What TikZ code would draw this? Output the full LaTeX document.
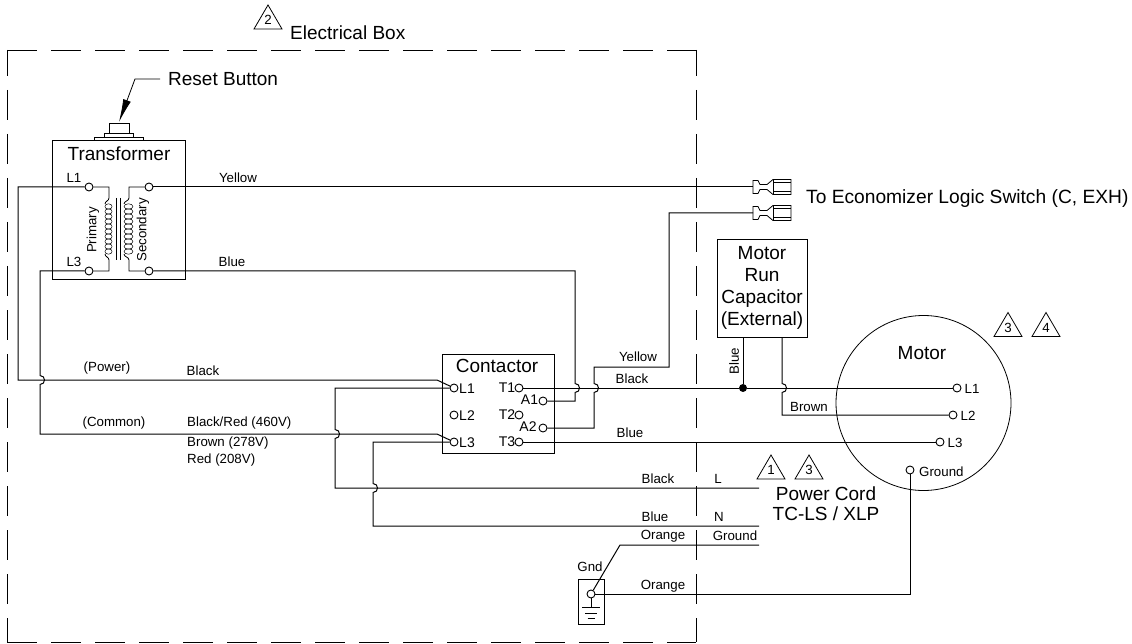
\documentclass[tikz,border=0pt]{standalone}
\usepackage{fontspec}
\setmainfont{Liberation Sans}
\usetikzlibrary{arrows.meta,calc}
\def\hop#1#2{-- (#1,#2-4.5) .. controls (#1+6,#2-4.5) and (#1+6,#2+4.5) .. (#1,#2+4.5)}
\def\spadeplug(#1){\draw[thinline,shift={(#1)}] (0,-6.5) -- (5,-6.5) -- (7,-2.5) -- (14,-2.5) -- (20,-7.5) -- (38,-7.5) -- (38,7.5) -- (20,7.5) -- (14,2.5) -- (7,2.5) -- (5,6.5) -- (0,6.5) -- cycle;
	\draw[thinline,shift={(#1)}] (20,-7.5) -- (20,7.5) (20,-4.5) -- (38,-4.5) (20,4.5) -- (38,4.5);}
\def\notetri(#1)#2#3;{\draw[thinline] ($(#1)+(-14,12)$) -- ($(#1)+(0,-12)$) -- ($(#1)+(14,12)$) -- cycle; \node[small] (#3) at ($(#1)+(0,3)$) {#2};}
\tikzset{
	wire/.style={line width=1pt},
	thinline/.style={line width=0.8pt},
	term/.style={circle,draw,line width=0.9pt,fill=white,inner sep=0pt,minimum size=8pt},
	big/.style={inner sep=0pt,font=\fontsize{19}{21}\selectfont},
	small/.style={inner sep=0pt,font=\fontsize{13.3}{15}\selectfont},
	boxdash/.style={line width=0.9pt,dash pattern=on 30pt off 14pt}
}
\begin{document}
\begin{tikzpicture}[x=1pt,y=-1pt]
	\useasboundingbox (0,0) rectangle (1132,644);
	
	%%%%% ELECTRICAL BOX %%%%%
	\draw[boxdash] (7,50) -- (696,50);
	\draw[boxdash] (7,642) -- (696,642);
	\draw[boxdash,dash phase=4pt] (7,50) -- (7,642);
	\draw[boxdash,dash phase=4pt] (696,50) -- (696,642);
	\notetri(268,17)2{noteA};
	\node[big,anchor=west] (elecbox) at (290,33) {Electrical Box};
	
	%%%%% TRANSFORMER %%%%%
	\draw[thinline] (52,140) rectangle (185,279);
	\node[big] (xftitle) at (119,154) {Transformer};
	\draw[thinline] (94,140) rectangle (143,137);
	\draw[thinline] (104,137) rectangle (133,133);
	\draw[thinline] (109,133) rectangle (129,123);
	\coordinate (btn) at (119,122);
	\node[big,anchor=west] (reset) at (168,79) {Reset Button};
	\draw[thinline,-{Latex[length=23pt,width=8pt]}] ([xshift=-8pt]reset.west) -- (135,79) -- (btn);
	
	\node[term] (xfL1) at (89,187) {};
	\node[term] (xfL3) at (89,271) {};
	\node[term] (xfS1) at (149,187) {};
	\node[term] (xfS2) at (149,271) {};
	\node[small] (txtL1) at (74,178) {L1};
	\node[small] (txtL3) at (74,262) {L3};
	\node[small,rotate=90] (primary) at (93,230) {Primary};
	\node[small,rotate=90] (secondary) at (143,230) {Secondary};
	
	\draw[thinline] (xfL1) -- (109,187) -- (109,198) .. controls (109,201) and (105,201) .. (105,204);
	\draw[thinline] (105,254) .. controls (105,257) and (109,257) .. (109,260) -- (109,271) -- (xfL3);
	\draw[thinline] (xfS1) -- (129,187) -- (129,198) .. controls (129,201) and (124,201) .. (124,204);
	\draw[thinline] (124,254) .. controls (124,257) and (129,257) .. (129,260) -- (129,271) -- (xfS2);
	\foreach \i in {0,...,9} {
		\draw[line width=0.5pt] (108.5,206.5+5*\i) ellipse (3.6 and 2.7);
		\draw[line width=0.5pt] (128.5,206.5+5*\i) ellipse (4.4 and 2.7);
	}
	\draw[thinline] (116,198) -- (116,260);
	\draw[thinline] (120.5,198) -- (120.5,260);
	
	%%%%% CONTACTOR %%%%%
	\draw[thinline] (442,354) rectangle (554,453);
	\node[big] (cttitle) at (497,366) {Contactor};
	\foreach \n/\y in {1/388,2/415,3/442} {
		\node[term] (ctL\n) at (454,\y) {};
		\node[term] (ctT\n) at (519,\y) {};
		\node[small,font=\fontsize{14}{16}\selectfont] (txtcL\n) at (467,\y+1) {L\n};
		\node[small,font=\fontsize{14}{16}\selectfont] (txtcT\n) at (507,\y) {T\n};
	}
	\node[term] (ctA1) at (543,401) {};
	\node[term] (ctA2) at (543,428) {};
	\node[small,font=\fontsize{14}{16}\selectfont] (txtA1) at (529.5,400) {A1};
	\node[small,font=\fontsize{14}{16}\selectfont] (txtA2) at (528,427) {A2};
	
	%%%%% WIRES FROM THE TRANSFORMER %%%%%
	\draw[wire] (xfL1) -- (18,187) -- (18,380) -- (437,380) -- (ctL1);
	\draw[wire] (xfL3) -- (40,271) \hop{40}{380} -- (40,434) -- (437,434) -- (ctL3);
	\draw[wire] (xfS2) -- (575,271) \hop{575}{388} -- (575,401) -- (ctA1);
	
	%%%%% PLUGS %%%%%
	\coordinate (plugA) at (753,187);
	\coordinate (plugB) at (753,213);
	\spadeplug(plugA)
	\spadeplug(plugB)
	\draw[wire] (xfS1) -- (plugA);
	\draw[wire] (plugB) -- (669,213) -- (669,367) -- (594,367) \hop{594}{388} -- (594,428) -- (ctA2);
	\node[big,anchor=west,font=\fontsize{19.2}{21}\selectfont] (econ) at (806,199) {To Economizer Logic Switch (C, EXH)};
	
	%%%%% CAPACITOR %%%%%
	\draw[thinline] (717,239) rectangle (807,337);
	\node[big,align=center,font=\fontsize{19}{22}\selectfont] (cap) at (762,288) {Motor\\Run\\Capacitor\\(External)};
	\coordinate (capB) at (743,337);
	\coordinate (capC) at (782,337);
	\node[circle,fill=black,inner sep=0pt,minimum size=8pt] (blob) at (743,388) {};
	\draw[wire] (capB) -- (blob);
	
	%%%%% MOTOR %%%%%
	\draw[thinline] (923.5,403) circle (87.5);
	\node[big] (motor) at (922,353) {Motor};
	\node[term] (mtL1) at (957,388) {};
	\node[term] (mtL2) at (953,415) {};
	\node[term] (mtL3) at (940,442) {};
	\node[term] (mtG) at (910,470) {};
	\node[small] (txtm1) at (972,389) {L1};
	\node[small] (txtm2) at (968,416) {L2};
	\node[small] (txtm3) at (955,443) {L3};
	\node[small,anchor=west] (txtmg) at (919,472) {Ground};
	
	\draw[wire] (ctT1) -- (blob) -- (mtL1);
	\draw[wire] (capC) \hop{782}{388} -- (782,415) -- (mtL2);
	\draw[wire] (ctT3) -- (mtL3);
	
	%%%%% POWER CORD %%%%%
	\coordinate (cordL) at (759,488);
	\coordinate (cordN) at (759,526);
	\coordinate (cordG) at (759,545);
	\draw[wire] (ctL1) -- (335,388) \hop{335}{434} -- (335,488) -- (cordL);
	\draw[wire] (ctL3) -- (373,442) \hop{373}{488} -- (373,526) -- (cordN);
	
	\draw[thinline] (578,579) rectangle (604,624);
	\node[term] (gnd) at (591,594) {};
	\draw[wire] (cordG) -- (620,545) -- (gnd);
	\draw[wire] (gnd) -- (910,594) -- (mtG);
	\draw[thinline] (gnd) -- (591,607);
	\draw[thinline] (582,607) -- (600,607) (585,613) -- (597,613) (587.5,618) -- (594.5,618);
	\node[small] (txtgnd) at (590,567) {Gnd};
	
	\node[big,align=center,font=\fontsize{19}{20}\selectfont] (cord) at (826,503.5) {Power Cord\\TC-LS / XLP};
	
	\notetri(771,467)1{noteB};
	\notetri(809,467)3{noteC};
	\notetri(1008,324.5)3{noteD};
	\notetri(1046,324.5)4{noteE};
	
	%%%%% WIRE LABELS %%%%%
	\node[small] (lb1) at (238,178) {Yellow};
	\node[small] (lb2) at (232,262) {Blue};
	\node[small] (lb3) at (107,368) {(Power)};
	\node[small] (lb4) at (203,371) {Black};
	\node[small] (lb5) at (114,423) {(Common)};
	\node[small,anchor=west] (lb6) at (187,423) {Black/Red (460V)};
	\node[small,anchor=west] (lb7) at (187,443) {Brown (278V)};
	\node[small,anchor=west] (lb8) at (187,460) {Red (208V)};
	\node[small] (lb9) at (638,357) {Yellow};
	\node[small] (lb10) at (632,379) {Black};
	\node[small] (lb11) at (630,433) {Blue};
	\node[small,rotate=90] (lb12) at (734,361) {Blue};
	\node[small] (lb13) at (809,407) {Brown};
	\node[small] (lb14) at (658,479) {Black};
	\node[small] (lb15) at (718,479) {L};
	\node[small] (lb16) at (655,517) {Blue};
	\node[small] (lb17) at (719,517) {N};
	\node[small] (lb18) at (663,536) {Orange};
	\node[small] (lb19) at (735,536) {Ground};
	\node[small] (lb20) at (663,586) {Orange};
\end{tikzpicture}
\end{document}
